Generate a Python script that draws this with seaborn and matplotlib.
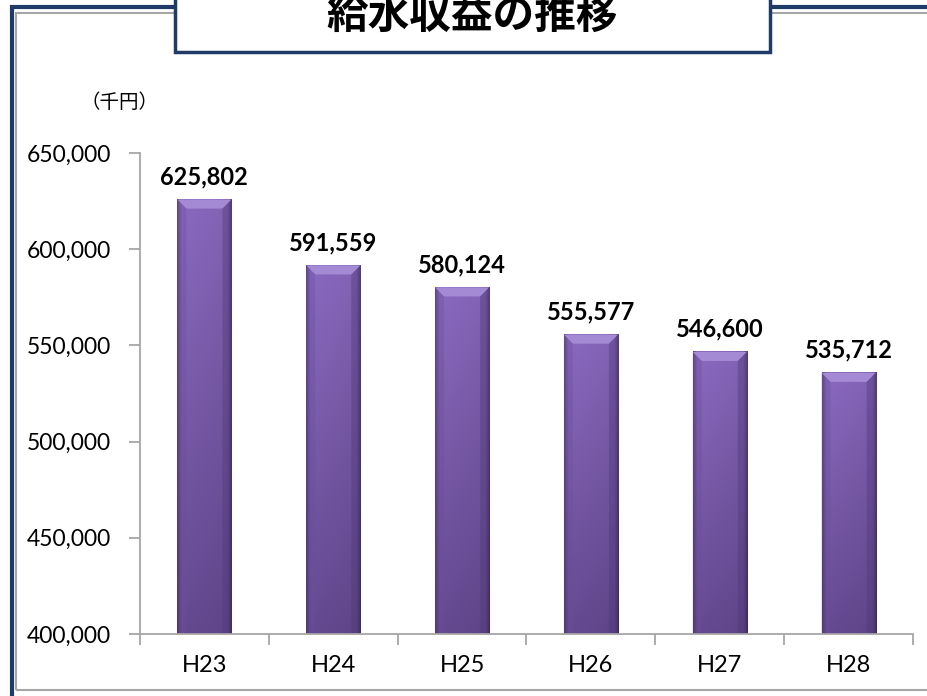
import numpy as np
import pandas as pd
import matplotlib
matplotlib.use("Agg")
import matplotlib.pyplot as plt
import seaborn as sns
from matplotlib.patches import Rectangle, Polygon

# データ
years = ["H23", "H24", "H25", "H26", "H27", "H28"]
revenue = [625802, 591559, 580124, 555577, 546600, 535712]
yticks = [400000, 450000, 500000, 550000, 600000, 650000]
title = "給水収益の推移"
unit = "（千円）"

sns.set_theme(style="white")
plt.rcParams['font.family'] = ['Lato', 'Noto Sans CJK JP', 'DejaVu Sans']

df = pd.DataFrame({"year": years, "revenue": revenue})

W, H = 928, 696
fig = plt.figure(figsize=(W / 100, H / 100), dpi=100)
fig.patch.set_facecolor("white")

# 外枠 (青 + グレー)
fig.patches.append(Rectangle((12 / W, -0.1), 2, 1 - 7 / H + 0.1, transform=fig.transFigure,
                             fill=False, edgecolor="#1F3C68", lw=3.0, zorder=1))
fig.patches.append(Rectangle((16 / W, 1 - 690 / H), 2, (690 - 12.5) / H, transform=fig.transFigure,
                             fill=False, edgecolor="#A6A6A6", lw=1.5, zorder=1))

ax = fig.add_axes([140 / W, 1 - 634 / H, 773 / W, 481 / H])
ax.set_facecolor("none")
ax.set_axisbelow(False)
sns.barplot(data=df, x="year", y="revenue", color="#8064A2", saturation=1,
            width=0.42, ax=ax, edgecolor="none")

ax.set_ylim(yticks[0], yticks[-1])
ax.set_xlim(-0.5, len(years) - 0.5)

# グラデーション
top_c = np.array([0x86, 0x66, 0xBA]) / 255
bot_c = np.array([0x62, 0x47, 0x8C]) / 255
ny, nx = 120, 60
t = np.linspace(0, 1, ny)[:, None, None]
col = top_c * (1 - t) + bot_c * t
u = np.linspace(-1, 1, nx)
shade = 1 - 0.35 * np.clip((np.abs(u) - 0.85) / 0.15, 0, 1)
shade = shade - 0.04 * u
img = np.clip(col * shade[None, :, None], 0, 1)

px_x = len(years) / 773
px_y = (yticks[-1] - yticks[0]) / 481
base = yticks[0]
for p in list(ax.patches):
    x0, w = p.get_x(), p.get_width()
    top = p.get_y() + p.get_height()
    z = p.get_zorder()
    ax.imshow(img, extent=(x0, x0 + w, base, top), origin="upper",
              aspect="auto", zorder=z + 0.1)
    dx, dy = 9 * px_x, 9 * px_y
    ax.add_patch(Polygon([(x0, top), (x0 + w, top), (x0 + w - dx, top - dy), (x0 + dx, top - dy)],
                         closed=True, facecolor="#A48AD4", edgecolor="none", zorder=z + 0.2))
    ax.add_patch(Polygon([(x0, top), (x0 + dx, top - dy), (x0 + dx, base), (x0, base)],
                         closed=True, facecolor="#6A4E9A", edgecolor="none", alpha=0.35, zorder=z + 0.2))
    ax.add_patch(Polygon([(x0 + w, top), (x0 + w - dx, top - dy), (x0 + w - dx, base), (x0 + w, base)],
                         closed=True, facecolor="#4E3878", edgecolor="none", alpha=0.4, zorder=z + 0.2))

ax.set_ylim(yticks[0], yticks[-1])
ax.set_xlim(-0.5, len(years) - 0.5)

# 値ラベル
ax.bar_label(ax.containers[0], labels=[f"{v:,}" for v in revenue], padding=8,
             fontsize=17, fontweight="bold", color="black")

# 軸
sns.despine(ax=ax)
for s in ["left", "bottom"]:
    ax.spines[s].set_color("#A6A6A6")
    ax.spines[s].set_linewidth(1.3)
    ax.spines[s].set_zorder(5)

ax.set_yticks(yticks)
ax.set_yticklabels([f"{v:,}" for v in yticks], fontsize=16.5, color="black")
ax.tick_params(axis="y", length=8, width=1.3, color="#A6A6A6", direction="out", pad=13, left=True)

ax.set_xticks(np.arange(len(years) + 1) - 0.5)
ax.set_xticklabels([])
ax.set_xticks(np.arange(len(years)), minor=True)
ax.set_xticklabels(years, minor=True, fontsize=17, color="black")
ax.tick_params(axis="x", which="major", length=8, width=1.3, color="#A6A6A6", direction="out", bottom=True)
ax.tick_params(axis="x", which="minor", length=0, pad=15, bottom=True)
ax.set_xlabel("")
ax.set_ylabel("")
ax.grid(False)

# 単位
fig.text(119 / W, 1 - 102 / H, unit, ha="center", va="center", fontsize=14,
         family=["Noto Sans CJK JP", "DejaVu Sans"], color="black")

# タイトルボックス
fig.patches.append(Rectangle((175 / W, 1 - 52 / H), (770 - 175) / W, 0.2, transform=fig.transFigure,
                             facecolor="white", edgecolor="#1F3C68", lw=2.5, zorder=3))
fig.text(472.5 / W, 1 - 28 / H, title, ha="center", va="baseline", fontsize=30,
         fontweight="bold", family=["Noto Sans CJK JP", "DejaVu Sans"], zorder=4, color="black")

fig.savefig("out.png", dpi=100)
